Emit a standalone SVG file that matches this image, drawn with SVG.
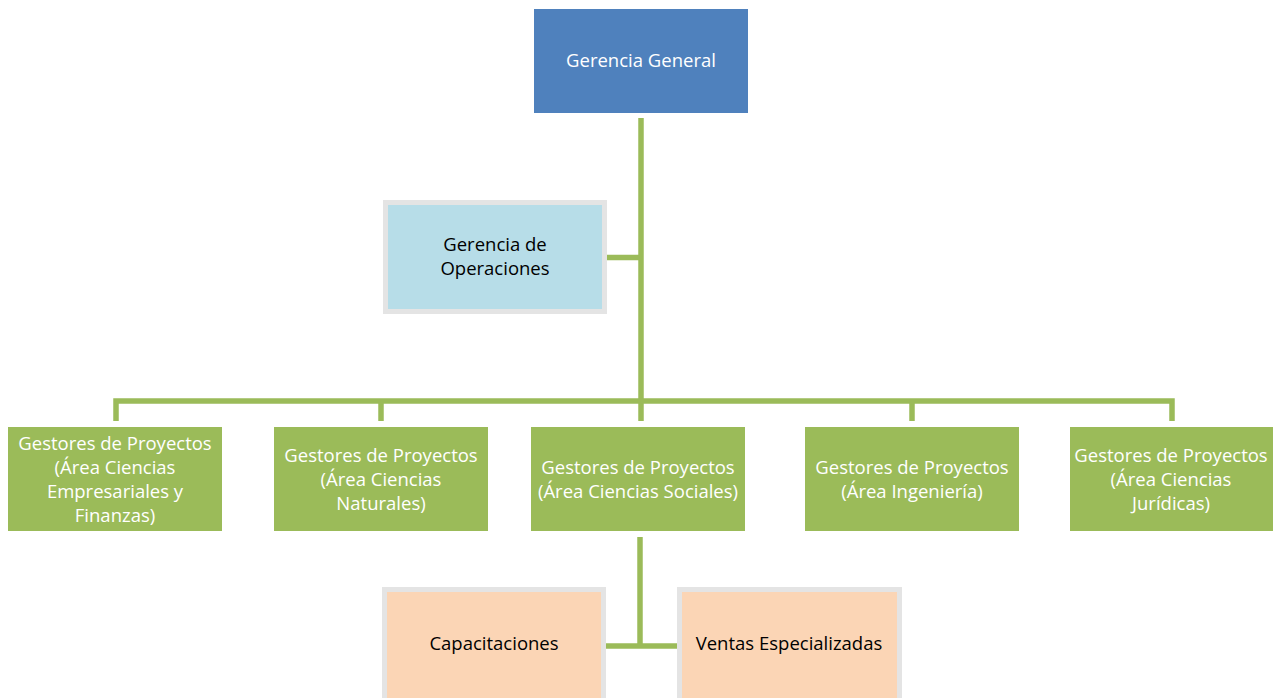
<svg xmlns="http://www.w3.org/2000/svg" width="1278" height="698" viewBox="0 0 1278 698">
<style>
.t{font-family:"Open Sans","Liberation Sans",sans-serif;font-size:18.5px;text-anchor:middle}
.w{fill:#ffffff}
.k{fill:#000000}
.g{fill:#9bbb59}
.c{stroke:#9bbb59;stroke-width:5.5;fill:none}
.gb{stroke:#e4e4e4;stroke-width:5}
</style>
<rect width="1278" height="698" fill="#ffffff"/>
<g id="connectors">
<path class="c" d="M641 118V421"/>
<path class="c" d="M607 257.5H641"/>
<path class="c" d="M116 421V401H1172V421"/>
<path class="c" d="M381 401V421"/>
<path class="c" d="M912 401V421"/>
<path class="c" d="M640 537V646"/>
<path class="c" d="M606 646H677"/>
</g>
<g id="gerencia-general">
<rect x="534" y="9" width="214" height="104" fill="#4f81bd"/>
<text class="t w" x="641" y="67">Gerencia General</text>
</g>
<g id="gerencia-operaciones">
<rect class="gb" x="385.5" y="202.5" width="219" height="109" fill="#b7dde8"/>
<text class="t k" x="495" y="251">Gerencia de</text>
<text class="t k" x="495" y="275">Operaciones</text>
</g>
<g id="gestores-empresariales">
<rect class="g" x="8" y="427" width="214" height="104"/>
<text class="t w" x="115" y="450">Gestores de Proyectos</text>
<text class="t w" x="115" y="474">(Área Ciencias</text>
<text class="t w" x="115" y="498">Empresariales y</text>
<text class="t w" x="115" y="522">Finanzas)</text>
</g>
<g id="gestores-naturales">
<rect class="g" x="274" y="427" width="214" height="104"/>
<text class="t w" x="381" y="462">Gestores de Proyectos</text>
<text class="t w" x="381" y="486">(Área Ciencias</text>
<text class="t w" x="381" y="510">Naturales)</text>
</g>
<g id="gestores-sociales">
<rect class="g" x="531" y="427" width="214" height="104"/>
<text class="t w" x="638" y="474">Gestores de Proyectos</text>
<text class="t w" x="638" y="498">(Área Ciencias Sociales)</text>
</g>
<g id="gestores-ingenieria">
<rect class="g" x="805" y="427" width="214" height="104"/>
<text class="t w" x="912" y="474">Gestores de Proyectos</text>
<text class="t w" x="912" y="498">(Área Ingeniería)</text>
</g>
<g id="gestores-juridicas">
<rect class="g" x="1070" y="427" width="203" height="104"/>
<text class="t w" x="1171" y="462">Gestores de Proyectos</text>
<text class="t w" x="1171" y="486">(Área Ciencias</text>
<text class="t w" x="1171" y="510">Jurídicas)</text>
</g>
<g id="capacitaciones">
<rect class="gb" x="384.5" y="589.5" width="219" height="120" fill="#fbd5b5"/>
<text class="t k" x="494" y="650">Capacitaciones</text>
</g>
<g id="ventas">
<rect class="gb" x="679.5" y="589.5" width="220" height="120" fill="#fbd5b5"/>
<text class="t k" x="789" y="650">Ventas Especializadas</text>
</g>
</svg>
